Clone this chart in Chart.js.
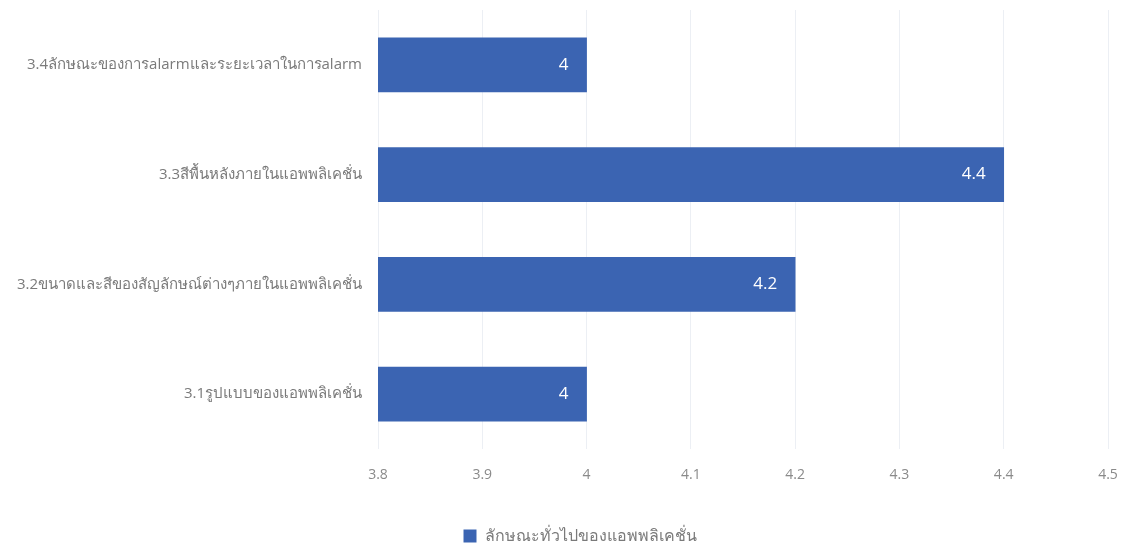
<!DOCTYPE html>
<html>
<head>
<meta charset="utf-8">
<script src="https://cdn.jsdelivr.net/npm/chart.js@4/dist/chart.umd.min.js"></script>
<style>
    html, body { margin: 0; padding: 0; background: #fff; }
    #wrap { width: 1126px; height: 550px; }
</style>
</head>
<body>
<div id="wrap"><canvas id="myChart"></canvas></div>
<script>
const categories = [
    '3.4ลักษณะของการalarmและระยะเวลาในการalarm',
    '3.3สีพื้นหลังภายในแอพพลิเคชั่น',
    '3.2ขนาดและสีของสัญลักษณ์ต่างๆภายในแอพพลิเคชั่น',
    '3.1รูปแบบของแอพพลิเคชั่น'
]
const seriesName = 'ลักษณะทั่วไปของแอพพลิเคชั่น'
const values = [4, 4.4, 4.2, 4]
const xTicks = [3.8, 3.9, 4, 4.1, 4.2, 4.3, 4.4, 4.5]

const fontFamily = "'Open Sans', 'Noto Sans', sans-serif"

// white value label inside the end of each bar
const valueLabels = {
    id: 'valueLabels',
    afterDatasetsDraw(chart) {
        const ctx = chart.ctx
        const meta = chart.getDatasetMeta(0)
        ctx.save()
        ctx.fillStyle = '#ffffff'
        ctx.font = '17px ' + fontFamily
        ctx.textAlign = 'right'
        ctx.textBaseline = 'middle'
        meta.data.forEach((bar, i) => {
            ctx.fillText(String(values[i]), bar.x - 18, bar.y)
        })
        ctx.restore()
    }
}

// nudge the legend a bit right/down, like the original
const legendShift = {
    id: 'legendShift',
    afterLayout(chart) {
        const lg = chart.legend
        if (!lg) return
        lg.left += 26
        lg.right += 26
        lg.top += 4
        lg.bottom += 4
    }
}

const ctx = document.getElementById('myChart').getContext('2d')

const chart = new Chart(ctx, {
    type: 'bar',
    data: {
        labels: categories,
        datasets: [{
            label: seriesName,
            data: values,
            backgroundColor: '#3b64b2',
            borderWidth: 0,
            barThickness: 54
        }]
    },
    options: {
        indexAxis: 'y',
        responsive: true,
        maintainAspectRatio: false,
        animation: false,
        layout: { padding: { top: 10, right: 18, left: 0, bottom: 0 } },
        scales: {
            x: {
                min: 3.8,
                max: 4.5,
                afterBuildTicks(scale) {
                    scale.ticks = xTicks.map(v => ({ value: v }))
                },
                afterFit(scale) {
                    scale.height = 71
                    scale.paddingLeft = 0
                    scale.paddingRight = 0
                },
                grid: { color: '#eceff4', drawTicks: false },
                border: { display: false },
                ticks: {
                    color: '#8a8a8a',
                    padding: 18,
                    font: { family: fontFamily, size: 14 },
                    callback: v => String(v)
                }
            },
            y: {
                afterFit(scale) {
                    scale.width = 378
                    scale.paddingTop = 0
                    scale.paddingBottom = 0
                },
                grid: { display: false, drawTicks: false },
                border: { display: false },
                ticks: {
                    color: '#7a7a7a',
                    padding: 16,
                    font: { family: fontFamily, size: 15 }
                }
            }
        },
        plugins: {
            legend: {
                position: 'bottom',
                labels: {
                    color: '#7a7a7a',
                    boxWidth: 13,
                    boxHeight: 13,
                    padding: 4,
                    font: { family: fontFamily, size: 16 }
                }
            },
            tooltip: { enabled: false }
        }
    },
    plugins: [valueLabels, legendShift]
})
</script>
</body>
</html>
